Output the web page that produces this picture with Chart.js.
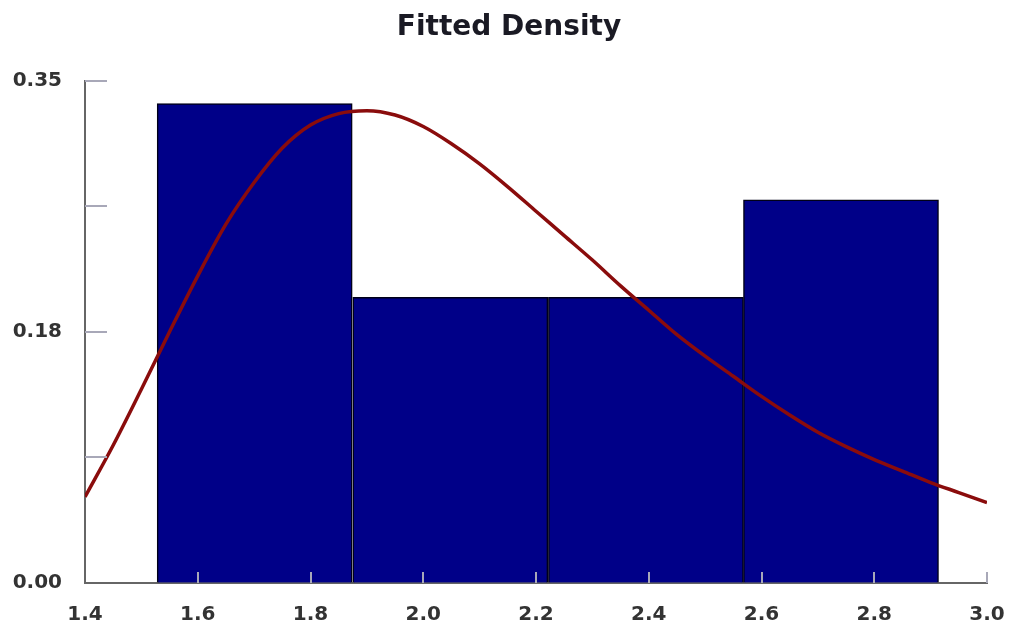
<!DOCTYPE html>
<html>
<head>
<meta charset="utf-8">
<script src="https://cdn.jsdelivr.net/npm/chart.js@4/dist/chart.umd.min.js"></script>
<style>
  html, body { margin: 0; padding: 0; background: #ffffff; }
  #wrap { width: 1018px; height: 632px; }
</style>
</head>
<body>
<div id="wrap"><canvas id="chart" width="1018" height="632"></canvas></div>
<script>
// histogram bins (centre of each bin) and heights
const binCenters = [1.701, 2.048, 2.395, 2.741];
const binHeights = [0.334, 0.199, 0.199, 0.267];

// fitted density curve
const curveX = [1.40, 1.45, 1.50, 1.55, 1.60, 1.65, 1.70, 1.75, 1.80, 1.85, 1.90, 1.95,
                2.00, 2.05, 2.10, 2.15, 2.20, 2.25, 2.30, 2.35, 2.40, 2.45, 2.50, 2.55,
                2.60, 2.65, 2.70, 2.75, 2.80, 2.85, 2.90, 2.95, 3.00];
const curveY = [0.060, 0.096, 0.135, 0.175, 0.214, 0.250, 0.279, 0.303, 0.319, 0.327, 0.329, 0.326,
                0.318, 0.306, 0.292, 0.276, 0.259, 0.242, 0.225, 0.207, 0.190, 0.173, 0.158, 0.144,
                0.130, 0.117, 0.105, 0.095, 0.086, 0.078, 0.070, 0.063, 0.056];

// axis ticks
const xTicks = [1.4, 1.6, 1.8, 2.0, 2.2, 2.4, 2.6, 2.8, 3.0];
const yTicks = [0, 0.0875, 0.175, 0.2625, 0.35];
const yTickLabels = ['0.00', '', '0.18', '', '0.35'];

// little inward tick marks, like the original
const innerTicks = {
  id: 'innerTicks',
  afterDatasetsDraw(chart) {
    const ctx = chart.ctx;
    const xs = chart.scales.x, ys = chart.scales.y;
    const area = chart.chartArea;
    ctx.save();
    ctx.lineWidth = 2;
    ctx.strokeStyle = '#a8a8b8';
    yTicks.forEach(v => {
      if (v === 0) return;
      const py = Math.round(ys.getPixelForValue(v));
      ctx.beginPath();
      ctx.moveTo(area.left, py);
      ctx.lineTo(area.left + 22, py);
      ctx.stroke();
    });
    xTicks.forEach(v => {
      if (v === xTicks[0]) return;
      const px = Math.round(xs.getPixelForValue(v));
      ctx.beginPath();
      ctx.moveTo(px, area.bottom);
      ctx.lineTo(px, area.bottom - 11);
      ctx.stroke();
    });
    ctx.restore();
  }
};

const labelFont = { family: '"DejaVu Sans", Verdana, sans-serif', size: 20, weight: 'bold' };

new Chart(document.getElementById('chart'), {
  type: 'bar',
  data: {
    datasets: [
      {
        type: 'line',
        label: 'Fitted',
        xAxisID: 'x',
        data: curveX.map((x, i) => ({ x: x, y: curveY[i] })),
        borderColor: '#8a0c0c',
        borderWidth: 3.5,
        pointRadius: 0,
        cubicInterpolationMode: 'monotone',
        fill: false,
        order: 0
      },
      {
        type: 'bar',
        label: 'Histogram',
        xAxisID: 'xBins',
        data: binCenters.map((x, i) => ({ x: x, y: binHeights[i] })),
        backgroundColor: '#000088',
        borderColor: '#000018',
        borderWidth: 1.5,
        grouped: false,
        barPercentage: 1.0,
        categoryPercentage: 1.0,
        order: 1
      }
    ]
  },
  options: {
    responsive: false,
    animation: false,
    layout: { padding: 0 },
    plugins: {
      legend: { display: false },
      tooltip: { enabled: false },
      title: {
        display: true,
        text: 'Fitted Density',
        color: '#1a1a24',
        font: { family: '"DejaVu Sans", Verdana, sans-serif', size: 28, weight: 'bold' },
        padding: { top: 11, bottom: 36 }
      }
    },
    scales: {
      x: {
        type: 'linear',
        offset: false,
        min: 1.4,
        max: 3.0,
        afterBuildTicks: scale => { scale.ticks = xTicks.map(v => ({ value: v })); },
        afterFit: scale => {
          scale.height = 49;
          scale.paddingLeft = 0;
          scale.paddingRight = 31;
        },
        ticks: {
          color: '#333333',
          font: labelFont,
          padding: 20,
          maxRotation: 0,
          callback: v => v.toFixed(1)
        },
        grid: { display: true, drawOnChartArea: false, drawTicks: false },
        border: { display: true, color: '#666666', width: 2 }
      },
      // axis used only to place the histogram bars (no ticks, so bars fill their bins)
      xBins: {
        type: 'linear',
        position: 'bottom',
        offset: false,
        min: 1.4,
        max: 3.0,
        afterBuildTicks: scale => { scale.ticks = []; },
        afterFit: scale => { scale.height = 0; },
        ticks: { display: false },
        grid: { display: false },
        border: { display: false }
      },
      y: {
        min: 0,
        max: 0.35,
        afterBuildTicks: scale => { scale.ticks = yTicks.map(v => ({ value: v })); },
        afterFit: scale => { scale.width = 85; },
        ticks: {
          color: '#333333',
          font: labelFont,
          padding: 23,
          callback: (v, i) => yTickLabels[i]
        },
        grid: { display: true, drawOnChartArea: false, drawTicks: false },
        border: { display: true, color: '#666666', width: 2 }
      }
    }
  },
  plugins: [innerTicks]
});
</script>
</body>
</html>
